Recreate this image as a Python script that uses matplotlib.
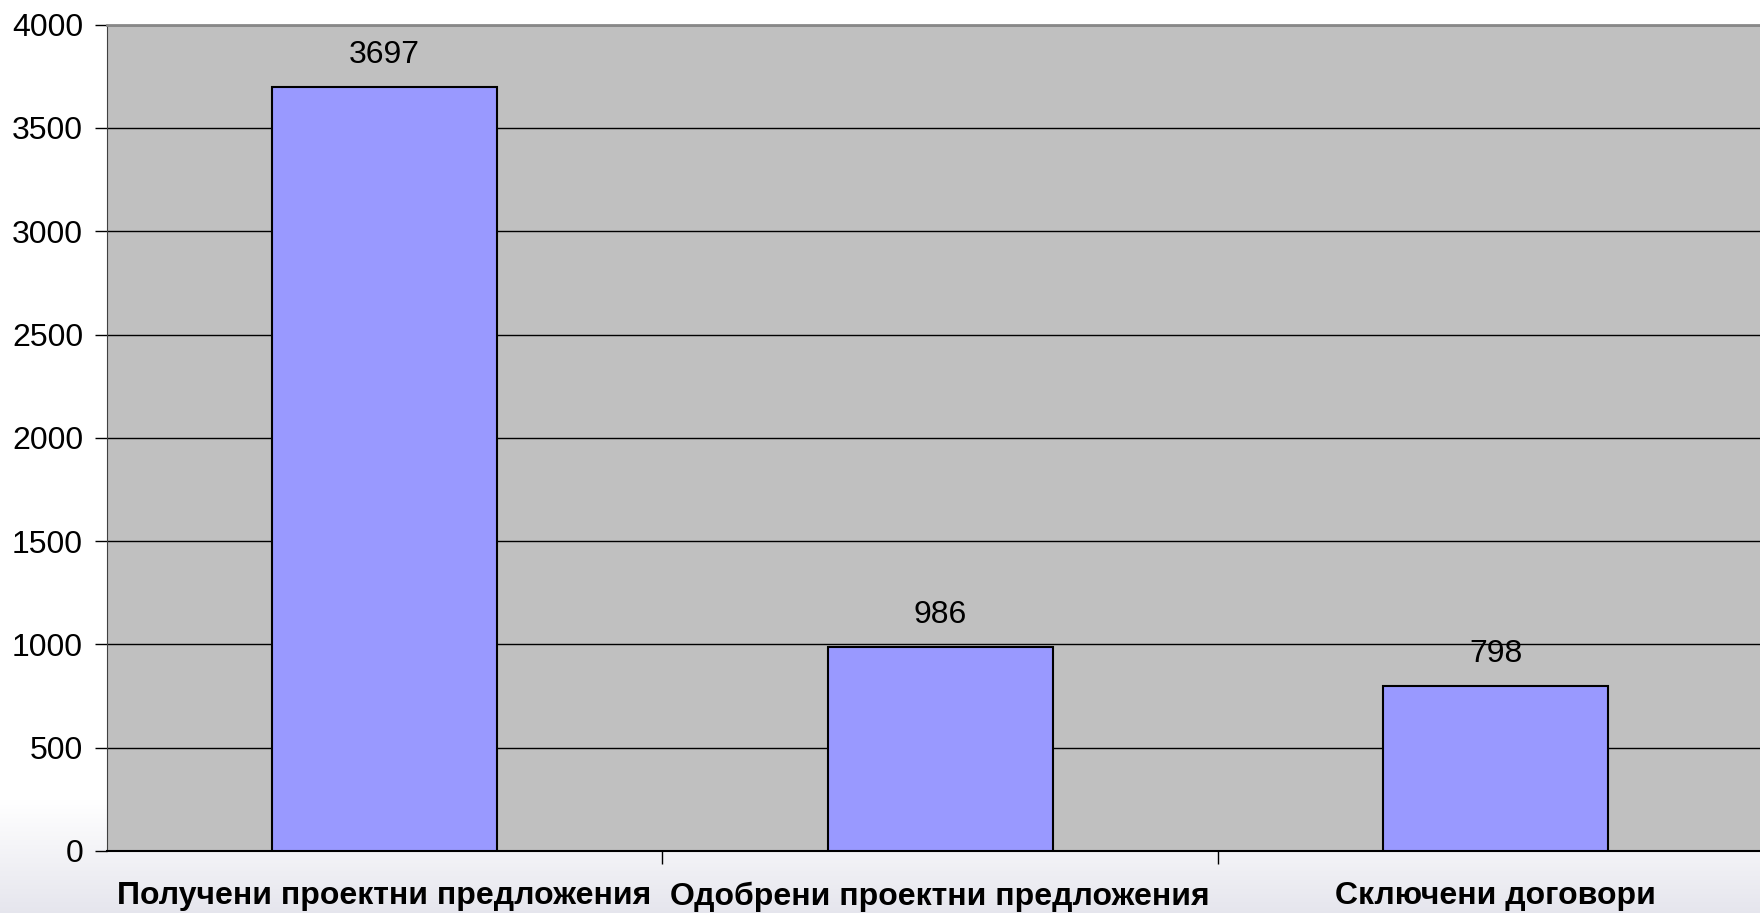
import matplotlib.pyplot as plt
import numpy as np

# data
categories = ["Получени проектни предложения", "Одобрени проектни предложения", "Сключени договори"]
values = [3697, 986, 798]
yticks = [0, 500, 1000, 1500, 2000, 2500, 3000, 3500, 4000]

plt.rcParams['font.family'] = ['Liberation Sans', 'DejaVu Sans']

fig = plt.figure(figsize=(17.6, 9.13), dpi=100)

# soft gradient at the bottom of the slide
bg = fig.add_axes([0, 0, 1, 1], zorder=-10)
grad = np.ones((913, 1, 3))
rows = np.arange(913)
t = np.clip((rows - 800) / 113.0, 0, 1)
top = np.array([1.0, 1.0, 1.0])
bot = np.array([0.90, 0.90, 0.93])
grad[:, 0, :] = top + (bot - top) * t[:, None]
bg.imshow(grad, aspect='auto', extent=[0, 1, 0, 1], origin='upper')
bg.axis('off')

# the plot area runs a little past the right edge
ax = fig.add_axes([0.0606, 0.068, 0.947, 0.905])
ax.set_facecolor('#c0c0c0')

x = np.arange(len(categories))
bars = ax.bar(x, values, width=0.405, color='#9999ff', edgecolor='black', linewidth=1.5, zorder=3)

for xi, v in zip(x, values):
    ax.text(xi, v + 85, str(v), ha='center', va='bottom', fontsize=23, zorder=4)

ax.set_xlim(-0.5, len(categories) - 0.5)
ax.set_ylim(0, 4000)
ax.set_yticks(yticks)
ax.tick_params(axis='y', labelsize=23, length=9, width=1, direction='out', pad=8)
ax.yaxis.grid(True, color='black', linewidth=1)
ax.set_axisbelow(True)

# category boundaries carry the x ticks
ax.set_xticks([0.5, 1.5])
ax.set_xticklabels([])
ax.tick_params(axis='x', length=9, width=1, direction='out')
for xi, name in zip(x, categories):
    ax.text(xi, -0.037, name, transform=ax.get_xaxis_transform(), ha='center', va='top',
            fontsize=23, fontweight='bold')

ax.spines['top'].set_color('#888888')
ax.spines['top'].set_linewidth(2)
ax.spines['right'].set_visible(False)
ax.spines['left'].set_color('#404040')
ax.spines['bottom'].set_color('black')
ax.spines['bottom'].set_linewidth(1.5)

fig.savefig('out.png', dpi=100)
